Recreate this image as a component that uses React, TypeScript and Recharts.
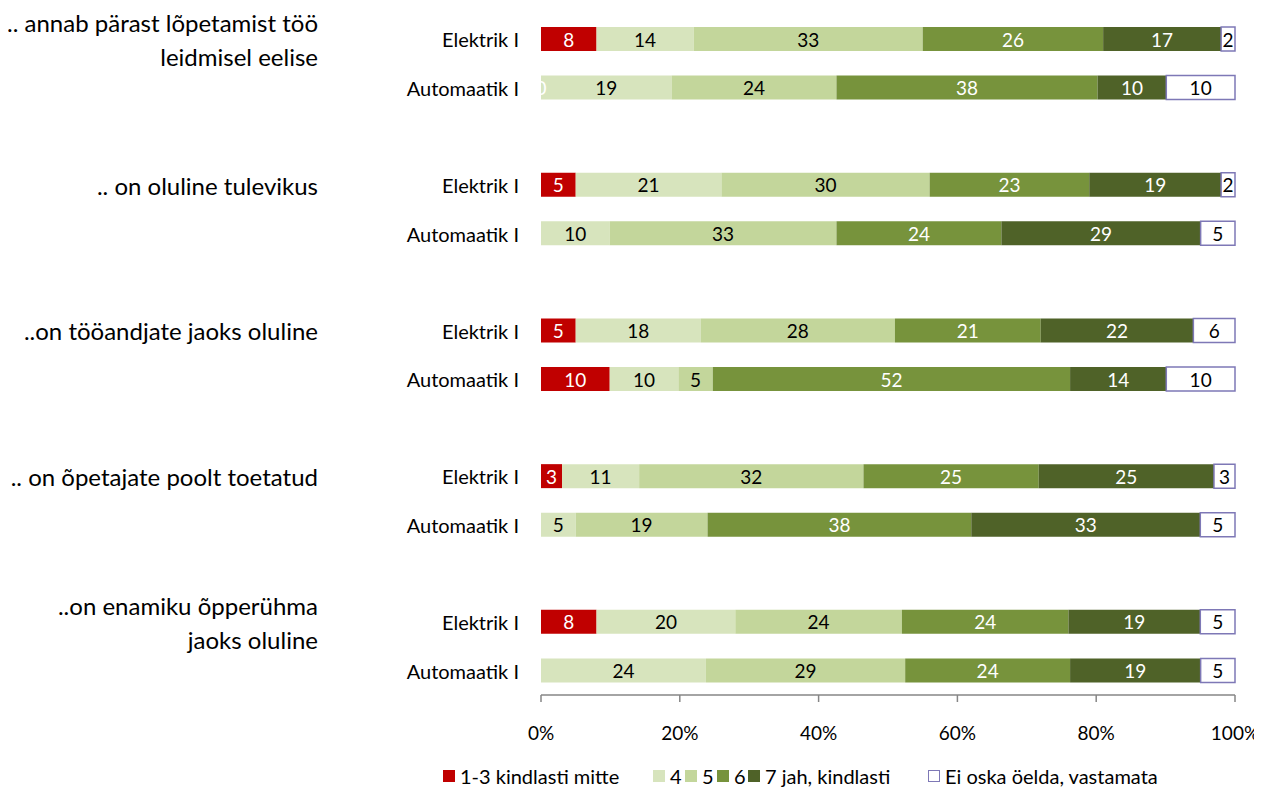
import React from "react";
import { BarChart, Bar, XAxis, YAxis, Legend, LabelList } from "recharts";

const groupLabels: string[][] = [
  [".. annab pärast lõpetamist töö", "leidmisel eelise"],
  [".. on oluline tulevikus"],
  ["..on tööandjate jaoks oluline"],
  [".. on õpetajate poolt toetatud"],
  ["..on enamiku õpperühma", "jaoks oluline"],
];
const programs = ["Elektrik I", "Automaatik I"];

const seriesNames = ["1-3 kindlasti mitte", "4", "5", "6", "7 jah, kindlasti", "Ei oska öelda, vastamata"];
const seriesKeys = ["s13", "s4", "s5", "s6", "s7", "s0"];
const seriesColors = ["#C00000", "#D7E4BD", "#C3D69B", "#77933C", "#4F6228", "#FFFFFF"];
const labelColors = ["#FFFFFF", "#000000", "#000000", "#FFFFFF", "#FFFFFF", "#000000"];
const legendItemWidths = [210, 32, 32, 31, 180, 250];

// order: group1 Elektrik, group1 Automaatik, group2 Elektrik, ...
const v13: (number | null)[] = [8, 0, 5, null, 5, 10, 3, 0, 8, null];
const v4: number[] = [14, 19, 21, 10, 18, 10, 11, 5, 20, 24];
const v5: number[] = [33, 24, 30, 33, 28, 5, 32, 19, 24, 29];
const v6: number[] = [26, 38, 23, 24, 21, 52, 25, 38, 24, 24];
const v7: number[] = [17, 10, 19, 29, 22, 14, 25, 33, 19, 19];
const v0: number[] = [2, 10, 2, 5, 6, 10, 3, 5, 5, 5];

const xTicks = [0, 0.2, 0.4, 0.6, 0.8, 1];

const FONT = "Lato, 'Open Sans', sans-serif";

type Row = Record<string, any>;
const data: Row[] = [];
groupLabels.forEach((g, gi) => {
  if (gi > 0) {
    data.push({ row: `sp${gi}`, s13: 0, s4: 0, s5: 0, s6: 0, s7: 0, s0: 0 });
  }
  programs.forEach((p, pi) => {
    const i = gi * 2 + pi;
    const vals = [v13[i], v4[i], v5[i], v6[i], v7[i], v0[i]];
    const r: Row = { row: `r${i}`, program: p, group: pi === 0 ? gi : -1 };
    seriesKeys.forEach((k, ki) => {
      r[k] = vals[ki] ?? 0;
      r[k + "_lbl"] = vals[ki];
    });
    data.push(r);
  });
});

const YTick = (props: any) => {
  const { x, y, payload } = props;
  const row = data.find((d) => d.row === payload.value);
  if (!row || !row.program) return null;
  const g = row.group >= 0 ? groupLabels[row.group] : null;
  const lh = 34;
  return (
    <g>
      <text x={x - 22} y={y} textAnchor="end" dominantBaseline="central" fontSize={20} fill="#000" fontFamily={FONT}>
        {row.program}
      </text>
      {g && (
        <text x={x - 223} y={y} textAnchor="end" fontSize={24} fill="#000" fontFamily={FONT}>
          {g.map((line, li) => (
            <tspan key={li} x={x - 223} y={y + (li - (g.length - 1) / 2) * lh} dominantBaseline="central">
              {line}
            </tspan>
          ))}
        </text>
      )}
    </g>
  );
};

const LBL = 19;

const makeLabel = (ki: number) => (props: any) => {
  const { x, y, width, height, value, index } = props;
  const row = typeof index === "number" ? data[index] : null;
  const extra =
    ki === 1 && row && row.s13_lbl === 0 ? (
      <text x={x} y={y + height / 2} textAnchor="middle" dominantBaseline="central" fontSize={LBL} fill="#FFFFFF" fontFamily={FONT}>
        0
      </text>
    ) : null;
  if (value === null || value === undefined) return extra;
  return (
    <g>
      {extra}
      <text
        x={x + width / 2}
        y={y + height / 2}
        textAnchor="middle"
        dominantBaseline="central"
        fontSize={LBL}
        fill={labelColors[ki]}
        fontFamily={FONT}
      >
        {value}
      </text>
    </g>
  );
};

const LegendContent = () => (
  <div style={{ display: "flex", alignItems: "center", fontFamily: FONT, fontSize: 20, color: "#000", whiteSpace: "nowrap", lineHeight: "24px" }}>
    {seriesNames.map((n, i) => (
      <div key={n} style={{ display: "flex", alignItems: "center", width: legendItemWidths[i], flex: "none" }}>
        <span
          style={{
            display: "inline-block",
            width: 12,
            height: 12,
            background: seriesColors[i],
            border: i === 5 ? "1.5px solid #7E78B6" : "none",
            boxSizing: "border-box",
            marginRight: 5,
            flex: "none",
          }}
        />
        <span>{n}</span>
      </div>
    ))}
  </div>
);

export default function App() {
  return (
    <div style={{ width: 1254, height: 779, position: "relative" }}>
      <BarChart
        width={1254}
        height={779}
        data={data}
        layout="vertical"
        stackOffset="expand"
        barSize={24}
        margin={{ top: 7, right: 27, bottom: 28, left: 0 }}
      >
        <XAxis
          type="number"
          domain={[0, 1]}
          ticks={xTicks}
          tickFormatter={(v: number) => `${Math.round(v * 100)}%`}
          axisLine={{ stroke: "#868686", strokeWidth: 1.5 }}
          tickLine={{ stroke: "#868686", strokeWidth: 1.5 }}
          tickSize={7}
          tickMargin={25}
          tick={{ fontSize: 19, fill: "#000", fontFamily: FONT }}
          height={40}
        />
        <YAxis
          type="category"
          dataKey="row"
          width={533}
          axisLine={false}
          tickLine={false}
          tickSize={0}
          tickMargin={0}
          interval={0}
          tick={<YTick />}
        />
        {seriesKeys.map((k, ki) => (
          <Bar
            key={k}
            dataKey={k}
            name={seriesNames[ki]}
            stackId="a"
            fill={seriesColors[ki]}
            stroke={ki === 5 ? "#7E78B6" : "none"}
            strokeWidth={ki === 5 ? 1.5 : 0}
            isAnimationActive={false}
          >
            <LabelList dataKey={k + "_lbl"} content={makeLabel(ki)} />
          </Bar>
        ))}
        <Legend
          content={<LegendContent />}
          wrapperStyle={{ position: "absolute", left: 435, top: 756, bottom: "auto", width: 820 }}
        />
      </BarChart>
    </div>
  );
}
